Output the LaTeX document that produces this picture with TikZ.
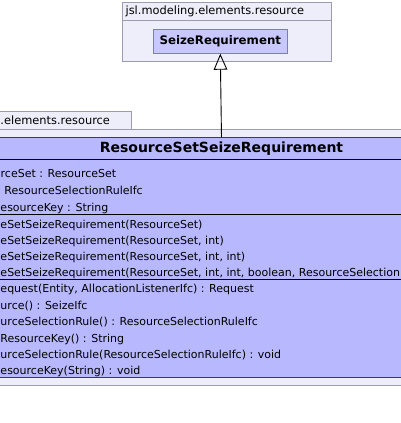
\documentclass[tikz,border=0pt]{standalone}
\usepackage{fontspec}
\setmainfont{DejaVu Sans}
\usetikzlibrary{arrows.meta}
\definecolor{pkgfill}{HTML}{EEEEFA}
\definecolor{pkgdraw}{HTML}{9C9CB0}
\definecolor{clsfill}{HTML}{B8B8FF}
\definecolor{clsfilltwo}{HTML}{C8C8FF}
\definecolor{clsdraw}{HTML}{7C7CC0}
\definecolor{bigdraw}{HTML}{3A3A5A}
\begin{document}
\begin{tikzpicture}[x=1pt,y=-1pt,
  pkg/.style={draw=pkgdraw,fill=pkgfill,line width=0.8pt},
  pkglabel/.style={inner sep=0pt,font=\fontsize{11.4}{13}\selectfont},
  smallcls/.style={draw=clsdraw,fill=clsfilltwo,line width=0.8pt,minimum width=134pt,minimum height=24pt,inner sep=0pt,font=\fontsize{11.8}{13}\selectfont\bfseries},
  bigcls/.style={draw=bigdraw,fill=clsfill,line width=0.8pt,minimum width=573pt,minimum height=239.6pt,inner sep=0pt},
  titletxt/.style={inner sep=0pt,font=\fontsize{14}{16}\selectfont\bfseries},
  txt/.style={inner sep=0pt,anchor=base west,font=\fontsize{11}{13}\selectfont},
  sep/.style={draw=black,line width=0.9pt},
  gen/.style={draw=black,line width=0.9pt,-{Triangle[open,width=13.6pt,length=16pt]}}]
\useasboundingbox (0,0) rectangle (400,423);
\fill[white] (0,0) rectangle (400,423);

% top package
\draw[pkg] (122.3,2.7) rectangle (331,20.7);
\draw[pkg] (122.3,20.7) rectangle (331,61);
\node[pkglabel,anchor=west] (toplabel) at (125.4,11.7) {jsl.modeling.elements.resource};
\node[smallcls] (sr) at (220.3,41.3) {SeizeRequirement};

% lower package
\draw[pkg] (-75,111) rectangle (131.7,129);
\draw[pkg] (-75,129) rectangle (520,385.7);
\node[pkglabel,anchor=west] (lowlabel) at (0.3,120) {.elements.resource};

% class
\node[bigcls] (rsr) at (221.5,257.5) {};
\node[titletxt] (title) at (221.5,148.6) {ResourceSetSeizeRequirement};
\draw[sep] (-65,159) -- (508,159);
\draw[sep] (-65,214) -- (508,214);
\draw[sep] (-65,279) -- (508,279);

% attributes
\node[txt] (a1) at (0.5,177.8) {rceSet : ResourceSet};
\node[txt] (a2) at (4.3,194.5) {ResourceSelectionRuleIfc};
\node[txt] (a3) at (0.3,211) {esourceKey : String};
% constructors
\node[txt] (c1) at (0.3,228.8) {eSetSeizeRequirement(ResourceSet)};
\node[txt] (c2) at (0.3,244.8) {eSetSeizeRequirement(ResourceSet, int)};
\node[txt] (c3) at (0.3,260.8) {eSetSeizeRequirement(ResourceSet, int, int)};
\node[txt] (c4) at (0.3,276.5) {eSetSeizeRequirement(ResourceSet, int, int, boolean, ResourceSelection};
% methods
\node[txt] (m1) at (0.3,292.8) {equest(Entity, AllocationListenerIfc) : Request};
\node[txt] (m2) at (0.3,309.2) {urce() : SeizeIfc};
\node[txt] (m3) at (0.3,325.5) {urceSelectionRule() : ResourceSelectionRuleIfc};
\node[txt] (m4) at (0.3,342) {ResourceKey() : String};
\node[txt] (m5) at (0.3,358) {urceSelectionRule(ResourceSelectionRuleIfc) : void};
\node[txt] (m6) at (0.3,374) {esourceKey(String) : void};

% generalization
\draw[gen] (rsr.north) -- (sr.south);
\end{tikzpicture}
\end{document}
